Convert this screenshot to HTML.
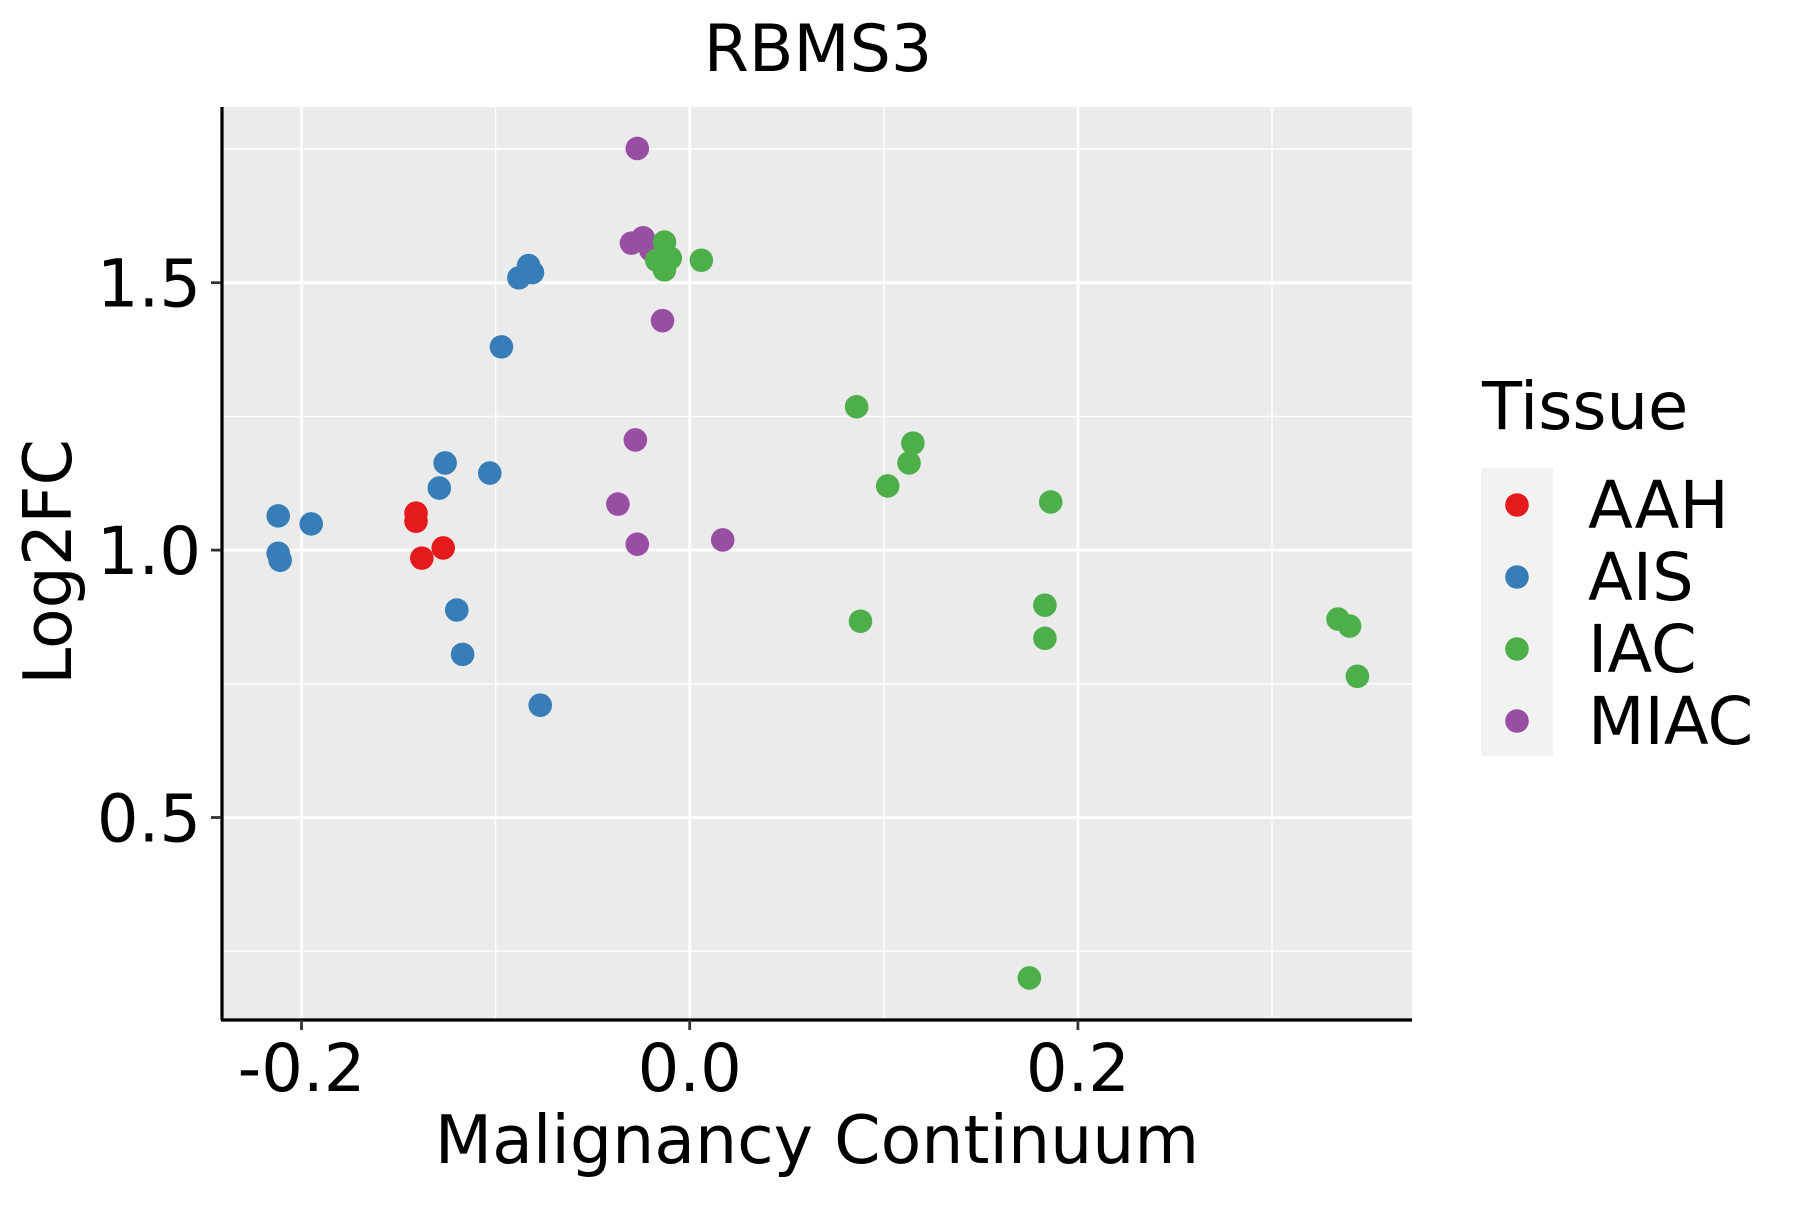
<!DOCTYPE html>
<html><head><meta charset="utf-8"><style>
html,body{margin:0;padding:0;background:#fff}
svg text{font-family:"DejaVu Sans","Liberation Sans",sans-serif;fill:#000}
</style></head><body>
<svg width="1800" height="1200" xmlns="http://www.w3.org/2000/svg">
<rect x="0" y="0" width="1800" height="1200" fill="#fff"/>
<rect x="221" y="107" width="1191" height="912" fill="#ebebeb"/>
<g id="grid"></g>
<g id="pts"></g>
<line x1="222" y1="107" x2="222" y2="1020" stroke="#000" stroke-width="3.2"/>
<line x1="221" y1="1020" x2="1412" y2="1020" stroke="#000" stroke-width="3.2"/>
<g id="ticks"></g>
<text x="818" y="71" font-size="65" text-anchor="middle">RBMS3</text>
<text x="817" y="1163" font-size="66.5" text-anchor="middle">Malignancy Continuum</text>
<text transform="translate(71,562) rotate(-90)" font-size="66.5" text-anchor="middle">Log2FC</text>
<g>
<text x="1482" y="429" font-size="65.5">Tissue</text>
<rect x="1481" y="468" width="72" height="288" fill="#f2f2f2"/>
<g id="leg"></g>
</g>
</svg>
<script>
const categories = ["AAH","AIS","IAC","MIAC"];
const colors = ["#e41a1c","#377eb8","#4daf4a","#984ea3"];
const xTicks = [-0.2,0.0,0.2];
const xTickLabels = ["-0.2","0.0","0.2"];
const xMinor = [-0.1,0.1,0.3];
const yTicks = [0.5,1.0,1.5];
const yTickLabels = ["0.5","1.0","1.5"];
const yMinor = [0.25,0.75,1.25,1.75];
const aahX = [-0.141,-0.141,-0.138,-0.127];
const aahY = [1.069,1.054,0.985,1.004];
const aisX = [-0.212,-0.212,-0.211,-0.195,-0.126,-0.129,-0.103,-0.120,-0.117,-0.077,-0.097,-0.088,-0.083,-0.081];
const aisY = [1.064,0.994,0.981,1.049,1.163,1.116,1.144,0.888,0.805,0.710,1.380,1.509,1.532,1.519];
const miacX = [-0.027,-0.030,-0.024,-0.020,-0.014,-0.028,-0.037,-0.027,0.017];
const miacY = [1.751,1.574,1.584,1.561,1.429,1.206,1.086,1.011,1.019];
const iacX = [-0.013,-0.010,-0.017,-0.013,0.006,0.086,0.115,0.113,0.102,0.186,0.088,0.183,0.183,0.175,0.334,0.340,0.344];
const iacY = [1.576,1.546,1.542,1.524,1.542,1.268,1.200,1.163,1.120,1.090,0.867,0.897,0.835,0.200,0.871,0.858,0.764];

const NS="http://www.w3.org/2000/svg";
const X0=221,X1=1412,Y0=107,Y1=1019;
function xs(v){return 689.7+v*1941;}
function ys(v){return 282.7-(v-1.5)*534.8;}
function mk(tag,attrs,parent){const e=document.createElementNS(NS,tag);for(const k in attrs)e.setAttribute(k,attrs[k]);parent.appendChild(e);return e;}
const grid=document.getElementById('grid');
xMinor.forEach(v=>{const l=mk('line',{x1:xs(v),x2:xs(v),y1:Y0,y2:Y1,stroke:'#fff','stroke-width':1.4},grid);

});
yMinor.forEach(v=>{const l=mk('line',{x1:X0,x2:X1,y1:ys(v),y2:ys(v),stroke:'#fff','stroke-width':1.4},grid);

});
xTicks.forEach(v=>{const l=mk('line',{x1:xs(v),x2:xs(v),y1:Y0,y2:Y1,stroke:'#fff','stroke-width':2.8},grid);

});
yTicks.forEach(v=>{const l=mk('line',{x1:X0,x2:X1,y1:ys(v),y2:ys(v),stroke:'#fff','stroke-width':2.8},grid);

});
const ticks=document.getElementById('ticks');
xTicks.forEach((v,i)=>{const l=mk('line',{x1:xs(v),x2:xs(v),y1:1020,y2:1030,stroke:'#333','stroke-width':2.8},ticks);


const t=mk('text',{x:xs(v),y:1091,'font-size':65.5,'text-anchor':'middle'},ticks);t.textContent=xTickLabels[i];

});
yTicks.forEach((v,i)=>{const l=mk('line',{x1:211,x2:221,y1:ys(v),y2:ys(v),stroke:'#333','stroke-width':2.8},ticks);


const t=mk('text',{x:201,y:ys(v)+24,'font-size':65.5,'text-anchor':'end'},ticks);t.textContent=yTickLabels[i];

});
const pts=document.getElementById('pts');
const series=[[aahX,aahY],[aisX,aisY],[iacX,iacY],[miacX,miacY]];
const order=[1,0,3,2];
order.forEach(s=>{const [xa,ya]=series[s];xa.forEach((x,i)=>{const c=mk('circle',{cx:xs(x),cy:ys(ya[i]),r:11.8,fill:colors[s]},pts);

});});
const leg=document.getElementById('leg');
categories.forEach((c,i)=>{const y=505+i*72;
const p=mk('circle',{cx:1517,cy:y,r:11.8,fill:colors[i]},leg);


const t=mk('text',{x:1588,y:y+23,'font-size':65.5},leg);t.textContent=c;

});
</script>
</body></html>
